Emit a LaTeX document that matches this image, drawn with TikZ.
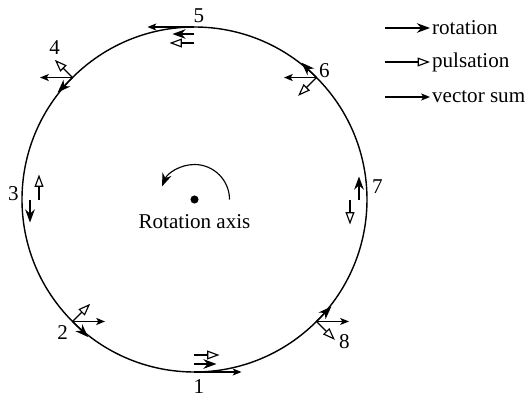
\documentclass[tikz,border=0pt]{standalone}
\usepackage{fontspec}
\setmainfont{Liberation Serif}
\usepackage{tikz}
\usetikzlibrary{arrows.meta, positioning, calc}
\tikzset{
  % Rim of the rotating disc
  rim/.style={
    draw=black, line width=0.8pt
  },
  % Rotation component: filled tip
  rotarrow/.style={
    -{Stealth[length=7.5pt, width=5.5pt]}, line width=0.65pt
  },
  % Pulsation component: open tip
  pulsearrow/.style={
    -{Triangle[open, length=7pt, width=5pt]}, line width=0.65pt
  },
  % Vector sum: thin tip
  sumarrow/.style={
    -{Stealth[length=5pt, width=4pt, inset=1.2pt]}, line width=0.65pt
  },
  % Numbers at the rim points
  ptlabel/.style={
    font=\fontsize{12}{14}\selectfont, inner sep=0pt
  },
  % Legend / caption text
  legtext/.style={
    font=\fontsize{12}{14}\selectfont, inner sep=1pt
  },
  % Axis marker
  axisdot/.style={
    circle, fill=black, inner sep=0pt, minimum size=4.6pt
  }
}

\begin{document}
\begin{tikzpicture}[x=0.02cm, y=0.02cm]
  \useasboundingbox (-194.5,-196.5) rectangle (334.5,199.5);

  % ── DISC AND AXIS ────────────────────────────────────────────────────────
  \draw[rim] (0,0) circle[radius=172.5];

  \node[axisdot] (axis) at (0,0) {};
  \node[legtext, below=5pt of axis] (axis_txt) {Rotation axis};

  \coordinate (spin_start) at (0:35);
  \draw[rotarrow] (spin_start) arc[start angle=0, end angle=158, radius=35];

  % ── POINT 1 (bottom) ─────────────────────────────────────────────────────
  \coordinate (p1)  at (270:172.5);
  \coordinate (r1a) at (270:164.5);
  \coordinate (r1b) at ($(r1a)+(0:22)$);
  \coordinate (q1a) at (270:155.5);
  \coordinate (q1b) at ($(q1a)+(0:25)$);
  \coordinate (s1)  at ($(p1)+(0:47)$);
  \draw[rotarrow]   (r1a) -- (r1b);
  \draw[pulsearrow] (q1a) -- (q1b);
  \draw[sumarrow]   (p1) -- (s1);
  \node[ptlabel] (n1) at ($(p1)+(4.5,-14.5)$) {1};

  % ── POINT 2 ──────────────────────────────────────────────────────────────
  \coordinate (p2) at (225:172.5);
  \coordinate (r2) at ($(p2)+(315:22)$);
  \coordinate (q2) at ($(p2)+(45:25)$);
  \coordinate (s2) at ($(p2)+(0:32.5)$);
  \draw[rotarrow]   (p2) -- (r2);
  \draw[pulsearrow] (p2) -- (q2);
  \draw[sumarrow]   (p2) -- (s2);
  \node[ptlabel] (n2) at ($(p2)+(-10,-11.5)$) {2};

  % ── POINT 3 (left) ───────────────────────────────────────────────────────
  \coordinate (p3)  at (180:172.5);
  \coordinate (r3a) at (180:164.5);
  \coordinate (r3b) at ($(r3a)+(270:23)$);
  \coordinate (q3a) at (180:155.5);
  \coordinate (q3b) at ($(q3a)+(90:25)$);
  \draw[rotarrow]   (r3a) -- (r3b);
  \draw[pulsearrow] (q3a) -- (q3b);
  \node[ptlabel] (n3) at ($(p3)+(-8.5,6)$) {3};

  % ── POINT 4 ──────────────────────────────────────────────────────────────
  \coordinate (p4) at (135:172.5);
  \coordinate (r4) at ($(p4)+(225:21)$);
  \coordinate (q4) at ($(p4)+(135:25)$);
  \coordinate (s4) at ($(p4)+(180:32.5)$);
  \draw[rotarrow]   (p4) -- (r4);
  \draw[pulsearrow] (p4) -- (q4);
  \draw[sumarrow]   (p4) -- (s4);
  \node[ptlabel] (n4) at ($(p4)+(-18,30)$) {4};

  % ── POINT 5 (top) ────────────────────────────────────────────────────────
  \coordinate (p5)  at (90:172.5);
  \coordinate (r5a) at (90:165.5);
  \coordinate (r5b) at ($(r5a)+(180:22)$);
  \coordinate (q5a) at (90:156.5);
  \coordinate (q5b) at ($(q5a)+(180:25)$);
  \coordinate (s5)  at ($(p5)+(180:47)$);
  \draw[rotarrow]   (r5a) -- (r5b);
  \draw[pulsearrow] (q5a) -- (q5b);
  \draw[sumarrow]   (p5) -- (s5);
  \node[ptlabel] (n5) at ($(p5)+(4.5,11)$) {5};

  % ── POINT 6 ──────────────────────────────────────────────────────────────
  \coordinate (p6) at (45:172.5);
  \coordinate (r6) at ($(p6)+(135:21)$);
  \coordinate (q6) at ($(p6)+(225:26)$);
  \coordinate (s6) at ($(p6)+(180:32.5)$);
  \draw[rotarrow]   (p6) -- (r6);
  \draw[pulsearrow] (p6) -- (q6);
  \draw[sumarrow]   (p6) -- (s6);
  \node[ptlabel] (n6) at ($(p6)+(8,6.5)$) {6};

  % ── POINT 7 (right) ──────────────────────────────────────────────────────
  \coordinate (p7)  at (0:172.5);
  \coordinate (r7a) at (0:164.5);
  \coordinate (r7b) at ($(r7a)+(90:23)$);
  \coordinate (q7a) at (0:155.5);
  \coordinate (q7b) at ($(q7a)+(270:25)$);
  \draw[rotarrow]   (r7a) -- (r7b);
  \draw[pulsearrow] (q7a) -- (q7b);
  \node[ptlabel] (n7) at ($(p7)+(10.5,12.5)$) {7};

  % ── POINT 8 ──────────────────────────────────────────────────────────────
  \coordinate (p8) at (315:172.5);
  \coordinate (r8) at ($(p8)+(45:21)$);
  \coordinate (q8) at ($(p8)+(315:26)$);
  \coordinate (s8) at ($(p8)+(0:32.5)$);
  \draw[rotarrow]   (p8) -- (r8);
  \draw[pulsearrow] (p8) -- (q8);
  \draw[sumarrow]   (p8) -- (s8);
  \node[ptlabel] (n8) at ($(p8)+(28,-20)$) {8};

  % ── LEGEND ───────────────────────────────────────────────────────────────
  \coordinate (leg_rot0) at (190.5,171.5);
  \coordinate (leg_rot1) at (235.5,171.5);
  \draw[rotarrow] (leg_rot0) -- (leg_rot1);
  \node[legtext, anchor=west] (leg_rot) at (leg_rot1) {rotation};

  \coordinate (leg_pul0) at (190.5,137.5);
  \coordinate (leg_pul1) at (235.5,137.5);
  \draw[pulsearrow] (leg_pul0) -- (leg_pul1);
  \node[legtext, anchor=west] (leg_pul) at (leg_pul1) {pulsation};

  \coordinate (leg_sum0) at (190.5,102.5);
  \coordinate (leg_sum1) at (235.5,102.5);
  \draw[sumarrow] (leg_sum0) -- (leg_sum1);
  \node[legtext, anchor=west] (leg_sum) at (leg_sum1) {vector sum};

\end{tikzpicture}
\end{document}
